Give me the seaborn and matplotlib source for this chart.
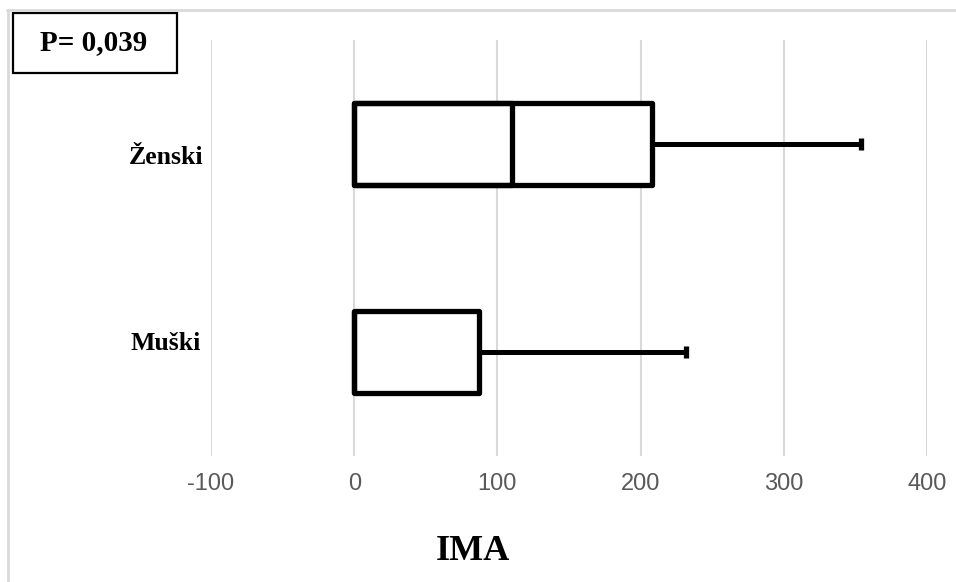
import matplotlib
matplotlib.use("Agg")
import matplotlib.pyplot as plt
import matplotlib.transforms as mtransforms
from matplotlib.patches import Rectangle
from matplotlib.lines import Line2D
import seaborn as sns
import pandas as pd

# Five-number summaries of IMA by sex
groups = ["Ženski", "Muški"]
q1 = [0, 0]
median = [110, 0]
q3 = [208, 87]
maximum = [354, 232]
x_ticks = [-100, 0, 100, 200, 300, 400]
p_text = "P= 0,039"
x_title = "IMA"

df = pd.DataFrame({"group": groups, "q1": q1, "median": median,
                   "q3": q3, "max": maximum})

sns.set_theme(style="white")
plt.rcParams["font.family"] = ["Liberation Serif", "DejaVu Serif"]

W, H = 956, 582
fig = plt.figure(figsize=(W / 100, H / 100), dpi=100)
ax = fig.add_axes([211 / W, 1 - 456 / H, (927 - 211) / W, (456 - 40) / H])

box_lw = 3.8
# box from Q1 to Q3
sns.barplot(data=df, x="q3", y="group", orient="h", ax=ax, color="white",
            saturation=1, edgecolor="black", linewidth=box_lw, width=0.39,
            zorder=3)
# median divider: right edge of the Q1..median bar
sns.barplot(data=df, x="median", y="group", orient="h", ax=ax, fill=False,
            color="black", linewidth=box_lw, width=0.39, zorder=4)
for p in ax.patches:
    p.set_joinstyle("round")

# whiskers from Q3 to the maximum, with end caps
pos = list(range(len(groups)))
ax.hlines(pos, df["q3"], df["max"], color="black", lw=3.6, zorder=2.5)
ax.plot(df["max"], pos, ls="none", marker="|", ms=9, mew=3.8,
        color="black", zorder=2.5)

ax.set_xlim(x_ticks[0], x_ticks[-1])
ax.set_ylim(len(groups) - 0.5, -0.5)
ax.set_xticks(x_ticks)
ax.set_xticklabels([str(t) for t in x_ticks],
                   family=["Liberation Sans Narrow", "Liberation Sans"],
                   fontsize=17, color="#595959")
ax.set_yticks(pos)
ax.set_yticklabels([])
ax.tick_params(axis="x", length=0, pad=12)
ax.tick_params(axis="y", length=0)

# category labels, each placed as its own text box beside its row
label_shift_px = [14, -8]
label_right_px = [8, 10]
base = mtransforms.blended_transform_factory(ax.transAxes, ax.transData)
for name, y, dy, dx in zip(groups, pos, label_shift_px, label_right_px):
    tr = base + mtransforms.ScaledTranslation(-dx / 100, -dy / 100,
                                              fig.dpi_scale_trans)
    ax.text(0, y, name, transform=tr, ha="right", va="center",
            fontsize=18.5, fontweight="bold", color="black")

ax.grid(axis="x", color="#d9d9d9", lw=1.5)
ax.grid(axis="y", visible=False)
ax.set_axisbelow(True)
for s in ax.spines.values():
    s.set_visible(False)
ax.set_ylabel("")
ax.set_xlabel(x_title, fontsize=26, fontweight="bold", color="black")
ax.xaxis.set_label_coords((473 - 211) / (927 - 211), (456 - 551) / (456 - 40))
ax.xaxis.label.set_va("center")

# p-value box in the upper-left corner
fig.patches.append(Rectangle((13 / W, 1 - 73 / H), 164 / W, 60 / H,
                             transform=fig.transFigure, fill=False,
                             edgecolor="black", lw=1.6))
fig.text(94 / W, 1 - 43 / H, p_text, ha="center", va="center",
         fontsize=21, fontweight="bold", color="black")

# chart area outline (top and left edges)
fig.lines.append(Line2D([7 / W, 1], [1 - 10 / H, 1 - 10 / H],
                        transform=fig.transFigure, color="#d9d9d9", lw=2))
fig.lines.append(Line2D([8 / W, 8 / W], [0, 1 - 10 / H],
                        transform=fig.transFigure, color="#d9d9d9", lw=2))

fig.savefig("out.png", dpi=100, facecolor="white")
